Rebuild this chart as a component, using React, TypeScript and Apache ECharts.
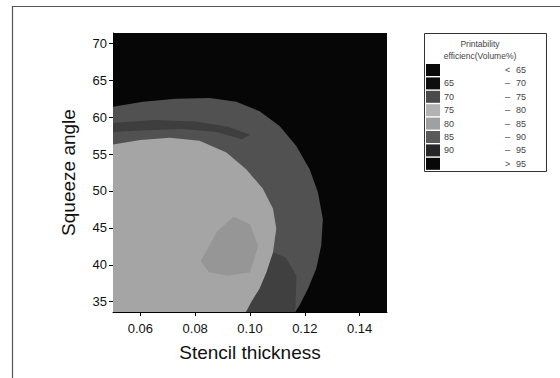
import React, { useEffect, useRef } from "react";
import * as echarts from "echarts";

// Contour boundaries: [stencil thickness, squeeze angle]
const ring70to75: number[][] = [
  [0.05, 33.6], [0.05, 61.4], [0.061, 62.1], [0.0731, 62.5], [0.0853, 62.6],
  [0.095, 62.1], [0.1035, 60.8], [0.1108, 58.8], [0.1169, 56.1], [0.1218, 52.9],
  [0.1248, 49.8], [0.1266, 46.2], [0.126, 42.6], [0.1242, 39.5], [0.1212, 36.8],
  [0.1181, 34.5], [0.1165, 33.6],
];
const darkBand: number[][] = [
  [0.05, 59.2], [0.065, 59.6], [0.08, 59.4], [0.092, 58.7], [0.1, 57.6],
  [0.097, 57.0], [0.088, 58.0], [0.075, 58.4], [0.06, 58.2], [0.05, 58.0],
];
const lowerRightDark: number[][] = [
  [0.0985, 33.6], [0.1005, 35.0], [0.1035, 36.8], [0.106, 39.0], [0.1084, 41.7],
  [0.113, 41.0], [0.117, 38.5], [0.1165, 33.6],
];
const core75to80: number[][] = [
  [0.05, 33.6], [0.05, 56.3], [0.06, 56.9], [0.0707, 57.2], [0.0816, 56.8],
  [0.0914, 55.2], [0.0987, 52.9], [0.1047, 50.3], [0.1084, 47.6], [0.1096, 44.9],
  [0.1084, 41.7], [0.106, 39.0], [0.1035, 36.8], [0.1005, 35.0], [0.0985, 33.6],
];
const coreMottle: number[][] = [
  [0.082, 40.5], [0.088, 44.5], [0.094, 46.5], [0.1, 45.5], [0.103, 42.5],
  [0.1, 39.0], [0.092, 38.5], [0.085, 39.0],
];

const thicknessTicks = [0.06, 0.08, 0.1, 0.12, 0.14];
const angleTicks = [35, 40, 45, 50, 55, 60, 65, 70];

const legendTitle = ["Printability", "efficienc(Volume%)"];
const legendLeft = ["", "65", "70", "75", "80", "85", "90", ""];
const legendSign = ["<", "–", "–", "–", "–", "–", "–", ">"];
const legendRight = ["65", "70", "75", "80", "85", "90", "95", "95"];

export default function App() {
  const ref = useRef<HTMLDivElement>(null);

  useEffect(() => {
    if (!ref.current) return;
    const chart = echarts.init(ref.current, null, { renderer: "svg" });

    const poly = (pts: number[][], fill: string, z: number) => ({
      type: "custom",
      coordinateSystem: "cartesian2d",
      data: [[0.1, 50]],
      z,
      clip: true,
      silent: true,
      renderItem: (_p: any, api: any) => ({
        type: "polygon",
        shape: { points: pts.map((p) => api.coord(p)) },
        style: { fill, stroke: null },
      }),
    });

    const swatchColors = ["#0a0a0a", "#0e0e0e", "#4a4a4a", "#b2b2b2", "#a0a0a0", "#5a5a5a", "#262626", "#080808"];
    const font = "Liberation Sans, Arial, sans-serif";
    const rowY0 = 70;
    const rowGap = 13.4;
    const legendEls: any[] = [
      { type: "rect", shape: { x: 424.5, y: 33.5, width: 122, height: 138 }, style: { fill: "#fff", stroke: "#333", lineWidth: 1 } },
      { type: "text", x: 480, y: 44, style: { text: legendTitle[0], fontSize: 8.5, fontFamily: font, fill: "#444", align: "center", verticalAlign: "middle" } },
      { type: "text", x: 480, y: 56, style: { text: legendTitle[1], fontSize: 8.5, fontFamily: font, fill: "#444", align: "center", verticalAlign: "middle" } },
    ];
    legendLeft.forEach((l, i) => {
      const cy = rowY0 + i * rowGap;
      legendEls.push({ type: "rect", shape: { x: 426, y: cy - 6, width: 14, height: 12 }, style: { fill: swatchColors[i] } });
      if (l) legendEls.push({ type: "text", x: 444, y: cy, style: { text: l, fontSize: 9, fontFamily: font, fill: "#444", verticalAlign: "middle" } });
      legendEls.push({ type: "text", x: 505, y: cy, style: { text: legendSign[i], fontSize: 9, fontFamily: font, fill: "#444", verticalAlign: "middle" } });
      legendEls.push({ type: "text", x: 516, y: cy, style: { text: legendRight[i], fontSize: 9, fontFamily: font, fill: "#444", verticalAlign: "middle" } });
    });

    chart.setOption({
      animation: false,
      backgroundColor: "#fff",
      grid: { left: 113, right: 173, top: 33, bottom: 66, show: true, backgroundColor: "#060606", borderWidth: 0 },
      xAxis: {
        type: "value",
        min: 0.05,
        max: 0.15,
        name: "Stencil thickness",
        nameLocation: "middle",
        nameGap: 31,
        nameTextStyle: { fontSize: 19, color: "#111", fontFamily: font },
        axisLine: { show: true, lineStyle: { color: "#000", width: 1 } },
        axisTick: { show: true, length: 4, customValues: thicknessTicks, lineStyle: { color: "#000" } },
        axisLabel: { customValues: thicknessTicks, fontSize: 13, color: "#111", fontFamily: font, margin: 10, formatter: (v: number) => v.toFixed(2) },
        splitLine: { show: false },
      },
      yAxis: {
        type: "value",
        min: 33.6,
        max: 71.4,
        name: "Squeeze angle",
        nameLocation: "middle",
        nameGap: 35,
        nameTextStyle: { fontSize: 19, color: "#111", fontFamily: font },
        axisLine: { show: true, lineStyle: { color: "#000", width: 1 } },
        axisTick: { show: true, length: 4, customValues: angleTicks, lineStyle: { color: "#000" } },
        axisLabel: { customValues: angleTicks, fontSize: 13, color: "#111", fontFamily: font, margin: 6 },
        splitLine: { show: false },
      },
      graphic: [
        { type: "line", shape: { x1: 12, y1: 6.5, x2: 560, y2: 6.5 }, style: { stroke: "#555", lineWidth: 1.2 } },
        { type: "line", shape: { x1: 12.5, y1: 6, x2: 12.5, y2: 378 }, style: { stroke: "#555", lineWidth: 1.2 } },
        ...legendEls,
      ],
      series: [
        poly(ring70to75, "#515151", 1),
        poly(darkBand, "#3e3e3e", 2),
        poly(lowerRightDark, "#404040", 2),
        poly(core75to80, "#a5a5a5", 3),
        poly(coreMottle, "#969696", 4),
      ],
    } as any);

    return () => chart.dispose();
  }, []);

  return (
    <div
      ref={ref}
      style={{ position: "fixed", left: 0, top: 0, width: 560, height: 378, background: "#fff" }}
    />
  );
}
